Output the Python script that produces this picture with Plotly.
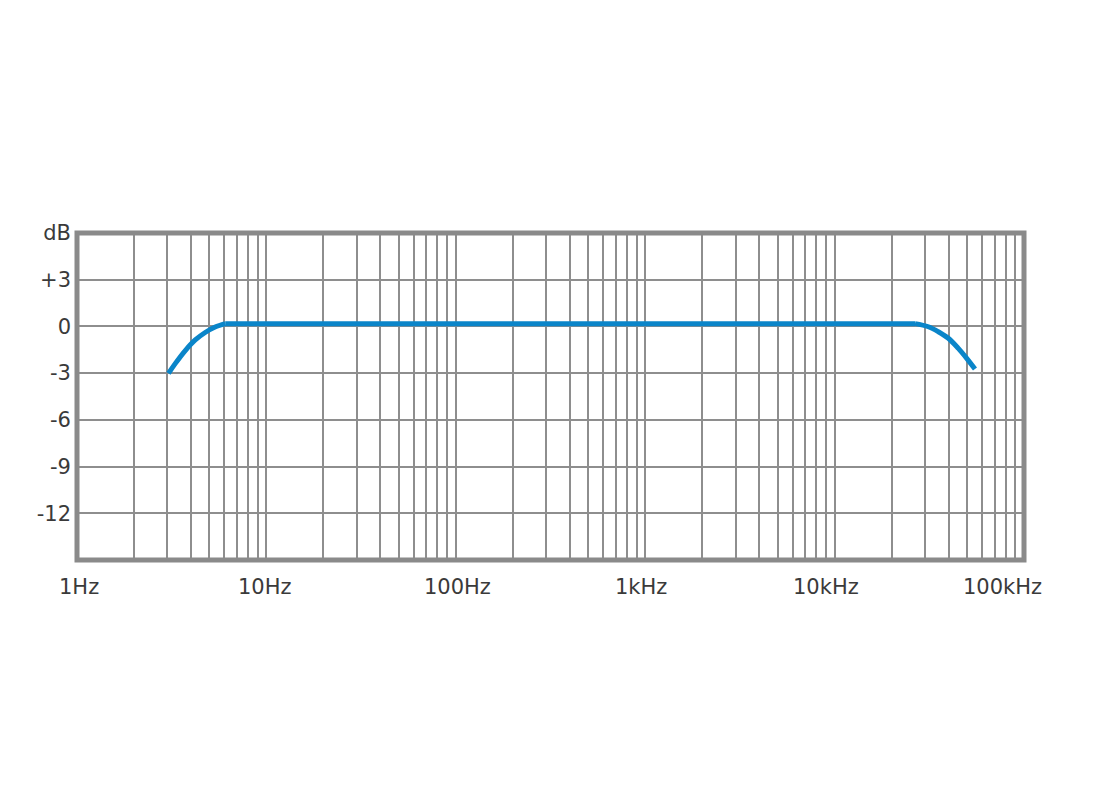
"""Frequency response chart (dB vs Hz, log axis)."""

import math

import plotly.graph_objects as go

# response curve
freq_hz = [3.04, 3.30, 3.73, 4.21, 4.75, 5.36, 6.06, 26580, 31250, 35290, 39850, 45000, 49840, 55120]
level_db = [-3.02, -2.39, -1.55, -0.87, -0.39, -0.04, 0.18, 0.18, -0.02, -0.34, -0.76, -1.41, -2.05, -2.74]
KNEE_LO, KNEE_HI = 6, 7  # indices where the flat part starts and ends

# axis ticks
db_ticks = [-12, -9, -6, -3, 0, 3, 6]
db_labels = ["-12", "-9", "-6", "-3", "0", "+3", "dB"]
freq_labels = ["1Hz", "10Hz", "100Hz", "1kHz", "10kHz", "100kHz"]
freq_label_at = [1.027, 9.85, 101.6, 951, 9016, 77000]

grid_freqs = [m * 10**k for k in range(5) for m in range(1, 10)] + [100000]

GRID = "#8e8e8e"
TEXT = "#3a3a3a"
BLUE = "#0a85c9"
FONT = "DejaVu Sans"

fig = go.Figure()
# roll-offs as splines, flat top as a straight line (a single spline bulges)
segments = [
    (slice(0, KNEE_LO + 1), "spline"),
    (slice(KNEE_LO, KNEE_HI + 1), "linear"),
    (slice(KNEE_HI, None), "spline"),
]
for sl, shape in segments:
    fig.add_trace(
        go.Scatter(
            x=freq_hz[sl],
            y=level_db[sl],
            mode="lines",
            line={"color": BLUE, "width": 5, "shape": shape, "smoothing": 1.0},
            showlegend=False,
            hoverinfo="skip",
        )
    )

# frequency labels sit a little off the decade lines, as in the source
for txt, f in zip(freq_labels, freq_label_at):
    fig.add_annotation(
        x=math.log10(f),  # log axis: annotation x is in log units
        y=0,
        xref="x",
        yref="paper",
        text=txt,
        showarrow=False,
        yanchor="middle",
        yshift=-27,
        font={"family": FONT, "size": 21, "color": TEXT},
    )

fig.add_shape(
    type="rect",
    xref="paper",
    yref="paper",
    x0=0,
    x1=1,
    y0=0,
    y1=1,
    line={"color": "#8a8a8a", "width": 5},
    layer="above",
)

fig.update_layout(
    width=1100,
    height=800,
    paper_bgcolor="white",
    plot_bgcolor="white",
    margin={"l": 69, "r": 84, "t": 225, "b": 248},
    font={"family": FONT, "size": 21, "color": TEXT},
    xaxis={
        "type": "log",
        "range": [0, 5],
        "tickvals": grid_freqs,
        "showticklabels": False,
        "showgrid": True,
        "gridcolor": GRID,
        "gridwidth": 2,
        "zeroline": False,
        "ticks": "",
    },
    yaxis={
        "range": [-15, 6],
        "tickvals": db_ticks,
        "ticktext": db_labels,
        "showgrid": True,
        "gridcolor": GRID,
        "gridwidth": 2,
        "zeroline": False,
        "ticks": "",
        "ticklabelstandoff": 5,
    },
)

fig.write_html("out.html")
